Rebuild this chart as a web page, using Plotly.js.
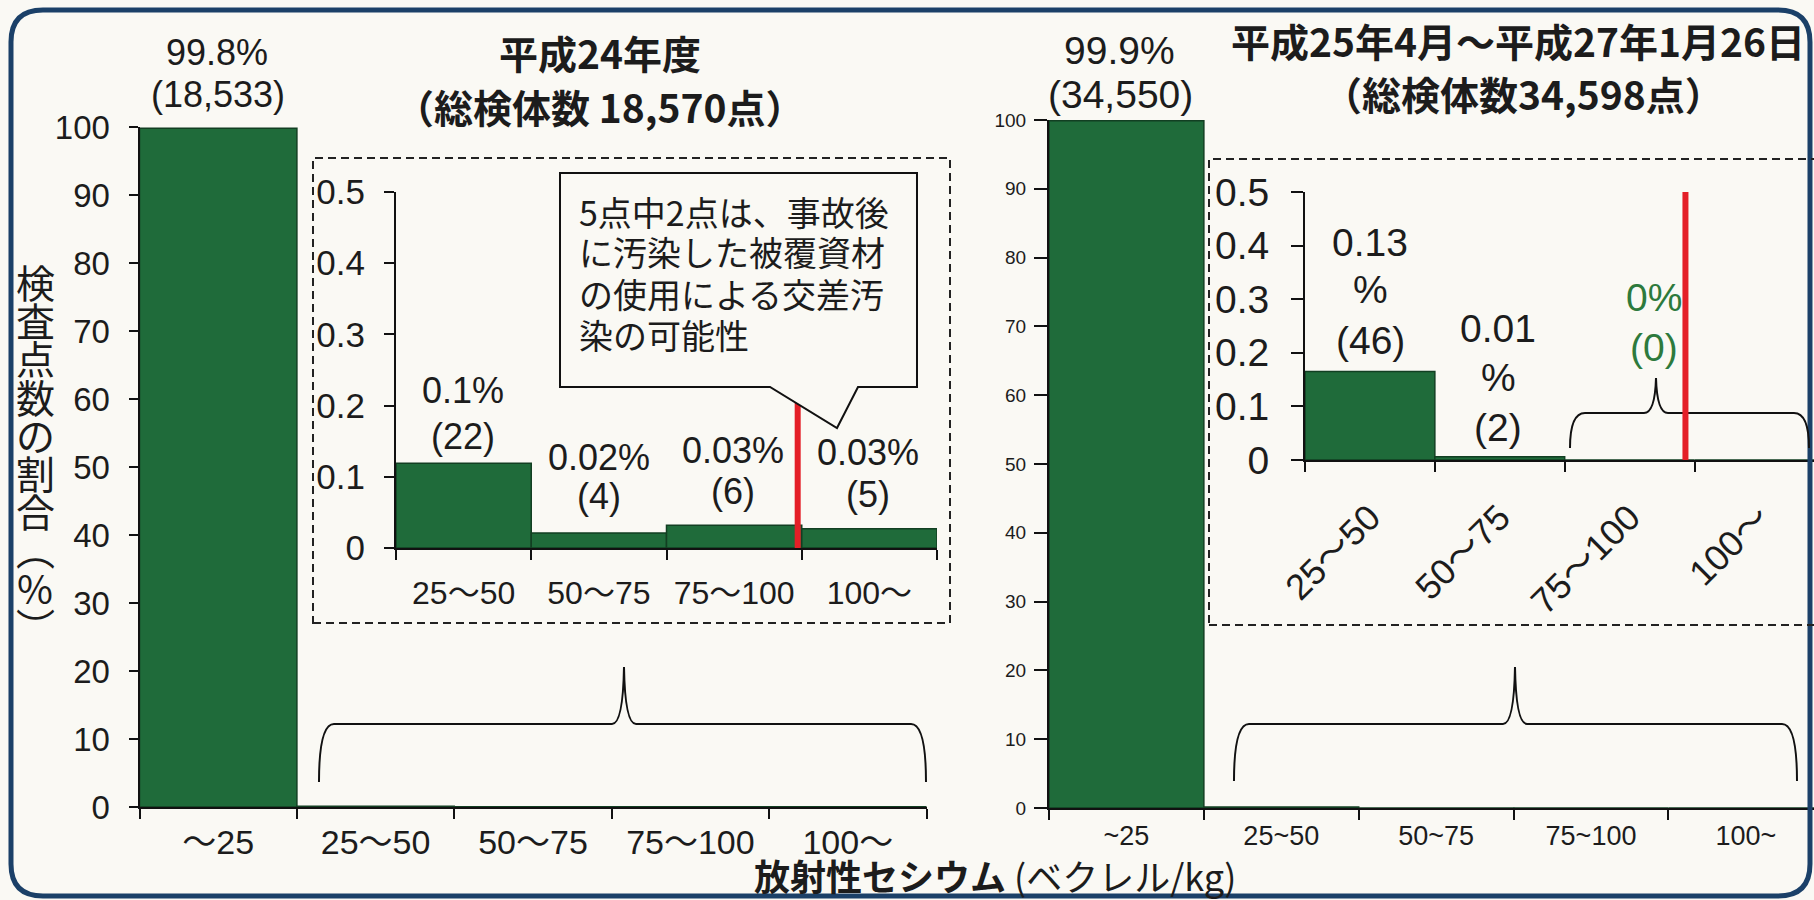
<!DOCTYPE html>
<html>
<head>
<meta charset="utf-8">
<script src="https://cdn.plot.ly/plotly-3.0.1.min.js"></script>
<style>html,body{margin:0;padding:0;background:#faf9f4;}#chart{width:1814px;height:900px;}</style>
</head>
<body>
<div id="chart"></div>
<script>
// ---- data ----
const mainCatsL = ["～25", "25～50", "50～75", "75～100", "100～"];
const mainCatsR = ["~25", "25~50", "50~75", "75~100", "100~"];
const insetCats = ["25～50", "50～75", "75～100", "100～"];
const h24Main = [99.8, 0.12, 0.02, 0.03, 0.03];
const h24Inset = [0.119, 0.021, 0.032, 0.027];
const h24Pct = ["0.1%", "0.02%", "0.03%", "0.03%"];
const h24Cnt = ["(22)", "(4)", "(6)", "(5)"];
const h25Main = [99.9, 0.13, 0.01, 0, 0];
const h25Inset = [0.165, 0.006, 0, 0];
const mainLabelL = ["99.8%", "(18,533)"];
const mainLabelR = ["99.9%", "(34,550)"];
const titleL = ["平成24年度", "（総検体数 18,570点）"];
const titleR = ["平成25年4月～平成27年1月26日", "（総検体数34,598点）"];
const calloutLines = ["5点中2点は、事故後", "に汚染した被覆資材", "の使用による交差汚", "染の可能性"];
const yTitleChars = ["検", "査", "点", "数", "の", "割", "合", "︵", "%", "︶"];

// ---- helpers ----
const W = 1814, H = 900;
const fx = x => x / W, fy = y => 1 - y / H;
const P = (x, y) => (x / W).toFixed(5) + ',' + (1 - y / H).toFixed(5);
const LAT = 'Liberation Sans, Noto Sans CJK JP, sans-serif';
const CJK = 'Noto Sans CJK JP, sans-serif';
const INK = '#1c1c1c';
const BG = '#faf9f4';
const GREEN = '#1f6b3a';
const RED = '#e41f27';

const annotations = [];
function txt(text, x, y, size, opts) {
  opts = opts || {};
  annotations.push(Object.assign({
    text: text, xref: 'paper', yref: 'paper', x: fx(x), y: fy(y),
    xanchor: 'center', yanchor: 'middle', showarrow: false,
    font: {family: opts.family || LAT, size: size, color: opts.color || INK, weight: opts.weight || 'normal'}
  }, opts.extra || {}));
}

// titles
txt(titleL[0], 600, 52, 39, {family: CJK, weight: 'bold'});
txt(titleL[1], 600, 106, 39, {family: CJK, weight: 'bold'});
txt(titleR[0], 1518, 40, 39, {family: CJK, weight: 'bold'});
txt(titleR[1], 1523, 93, 39, {family: CJK, weight: 'bold'});
// main bar labels
txt(mainLabelL[0], 217, 52, 36); txt(mainLabelL[1], 218, 94, 36);
txt(mainLabelR[0], 1119, 51, 39); txt(mainLabelR[1], 1120, 95, 39);
// left inset labels
const l24x = [463, 599, 733, 868], l24y1 = [391, 458, 450, 453], l24y2 = [437, 497, 491, 494];
for (let i = 0; i < 4; i++) { txt(h24Pct[i], l24x[i], l24y1[i], 36); txt(h24Cnt[i], l24x[i], l24y2[i], 36); }
// right inset labels
txt("0.13", 1370, 242, 39); txt("%", 1370, 290, 39); txt("(46)", 1370, 340, 39);
txt("0.01", 1498, 328, 39); txt("%", 1498, 378, 39); txt("(2)", 1498, 427, 39);
txt("0%", 1654, 297, 39, {color: '#2d7a3c'}); txt("(0)", 1654, 347, 39, {color: '#2d7a3c'});
// callout text
const cy = [211, 251, 293, 334];
calloutLines.forEach((t, i) => txt(t, 577, cy[i], 34, {family: CJK, extra: {xanchor: 'left'}}));
// y title, vertical
yTitleChars.forEach((c, i) => txt(c, 35, 281 + i * 38.2, 39, {family: CJK}));
// x title
txt('<b>放射性セシウム</b> (ベクレル/kg)', 995, 875, 36, {family: CJK});

// ---- shapes ----
function rr(x0, y0, x1, y1, r) {
  return 'M' + P(x0 + r, y0) + ' L' + P(x1 - r, y0) + ' Q' + P(x1, y0) + ' ' + P(x1, y0 + r) +
    ' L' + P(x1, y1 - r) + ' Q' + P(x1, y1) + ' ' + P(x1 - r, y1) +
    ' L' + P(x0 + r, y1) + ' Q' + P(x0, y1) + ' ' + P(x0, y1 - r) +
    ' L' + P(x0, y0 + r) + ' Q' + P(x0, y0) + ' ' + P(x0 + r, y0) + ' Z';
}
function brace(xl, xr, yb, yh, xp, yp) {
  return 'M' + P(xl, yb) + ' Q' + P(xl, yh) + ' ' + P(xl + 15, yh) +
    ' L' + P(xp - 12, yh) + ' Q' + P(xp - 1, yh) + ' ' + P(xp, yp) +
    ' Q' + P(xp + 1, yh) + ' ' + P(xp + 12, yh) +
    ' L' + P(xr - 15, yh) + ' Q' + P(xr, yh) + ' ' + P(xr, yb);
}
const shapes = [
  {type: 'path', xref: 'paper', yref: 'paper', path: rr(11, 10, 1810, 896, 32), line: {color: '#1b4068', width: 5}},
  {type: 'rect', xref: 'paper', yref: 'paper', x0: fx(313), x1: fx(950), y0: fy(623), y1: fy(158), line: {color: '#222', width: 2, dash: '8px,5px'}},
  {type: 'rect', xref: 'paper', yref: 'paper', x0: fx(1209), x1: fx(1840), y0: fy(625), y1: fy(159), line: {color: '#222', width: 2, dash: '8px,5px'}},
  {type: 'path', xref: 'paper', yref: 'paper', path: brace(319, 926, 782, 724, 624, 667), line: {color: '#111', width: 2}},
  {type: 'path', xref: 'paper', yref: 'paper', path: brace(1234, 1797, 781, 724, 1515, 667), line: {color: '#111', width: 2}},
  {type: 'path', xref: 'paper', yref: 'paper', path: brace(1570, 1809, 448, 413, 1656, 378), line: {color: '#111', width: 2}},
  {type: 'line', xref: 'x2', yref: 'y2', x0: 2.47, x1: 2.47, y0: -0.008, y1: 0.25, line: {color: RED, width: 6}},
  {type: 'line', xref: 'x4', yref: 'y4', x0: 2.43, x1: 2.43, y0: -0.005, y1: 0.526, line: {color: RED, width: 6}},
  {type: 'path', xref: 'paper', yref: 'paper',
    path: 'M' + P(560, 173) + ' L' + P(917, 173) + ' L' + P(917, 387) + ' L' + P(858, 387) + ' L' + P(837, 428) + ' L' + P(770, 387) + ' L' + P(560, 387) + ' Z',
    fillcolor: BG, line: {color: '#111', width: 2}}
];

// ---- traces ----
const barStyle = {color: GREEN, line: {color: '#123f22', width: 1.5}};
const traces = [
  {type: 'bar', x: mainCatsL, y: h24Main, xaxis: 'x', yaxis: 'y', marker: barStyle, hoverinfo: 'skip'},
  {type: 'bar', x: insetCats, y: h24Inset, xaxis: 'x2', yaxis: 'y2', marker: barStyle, hoverinfo: 'skip'},
  {type: 'bar', x: mainCatsR, y: h25Main, xaxis: 'x3', yaxis: 'y3', marker: barStyle, hoverinfo: 'skip'},
  {type: 'bar', x: insetCats, y: h25Inset, xaxis: 'x4', yaxis: 'y4', marker: barStyle, hoverinfo: 'skip'}
];

function xax(domain, anchor, cats, range, size, standoff, extra) {
  return Object.assign({
    domain: domain, anchor: anchor, type: 'category', categoryarray: cats, categoryorder: 'array',
    range: range, showline: true, linecolor: '#111', linewidth: 2, ticks: 'outside', tickson: 'boundaries',
    ticklen: 10, tickcolor: '#111', tickwidth: 2, showgrid: false, zeroline: false, fixedrange: true,
    tickangle: 0, tickfont: {family: LAT, size: size, color: INK}, ticklabelstandoff: standoff
  }, extra || {});
}
function yax(domain, anchor, range, dtick, size, standoff, ticklen) {
  return {
    domain: domain, anchor: anchor, range: range, dtick: dtick, tick0: 0, showline: true, linecolor: '#111', linewidth: 2,
    ticks: 'outside', ticklen: ticklen, tickcolor: '#111', tickwidth: 2, showgrid: false, zeroline: false, fixedrange: true,
    tickfont: {family: LAT, size: size, color: INK}, ticklabelstandoff: standoff
  };
}

const layout = {
  width: W, height: H, margin: {l: 0, r: 0, t: 0, b: 0},
  paper_bgcolor: BG, plot_bgcolor: 'rgba(0,0,0,0)', showlegend: false, bargap: 0,
  xaxis: xax([fx(139.5), fx(926.5)], 'y', mainCatsL, [-0.5, 4.5], 34, 4),
  yaxis: yax([fy(807), fy(127)], 'x', [0, 100], 10, 33, 12, 9),
  xaxis2: xax([fx(396), fx(937)], 'y2', insetCats, [-0.5, 3.5], 32, 16),
  yaxis2: yax([fy(548), fy(192)], 'x2', [0, 0.5], 0.1, 35, 12, 10),
  xaxis3: xax([fx(1049), 1], 'y3', mainCatsR, [-0.5, 4.44], 27, 3),
  yaxis3: yax([fy(808), fy(120)], 'x3', [0, 100], 10, 19, 4, 13),
  xaxis4: xax([fx(1305), 1], 'y4', insetCats, [-0.5, 3.42], 36, 20, {tickangle: -45}),
  yaxis4: yax([fy(460), fy(192)], 'x4', [0, 0.5], 0.1, 39, 14, 12),
  shapes: shapes,
  annotations: annotations
};

Plotly.newPlot('chart', traces, layout, {displayModeBar: false, staticPlot: true});
</script>
</body>
</html>
